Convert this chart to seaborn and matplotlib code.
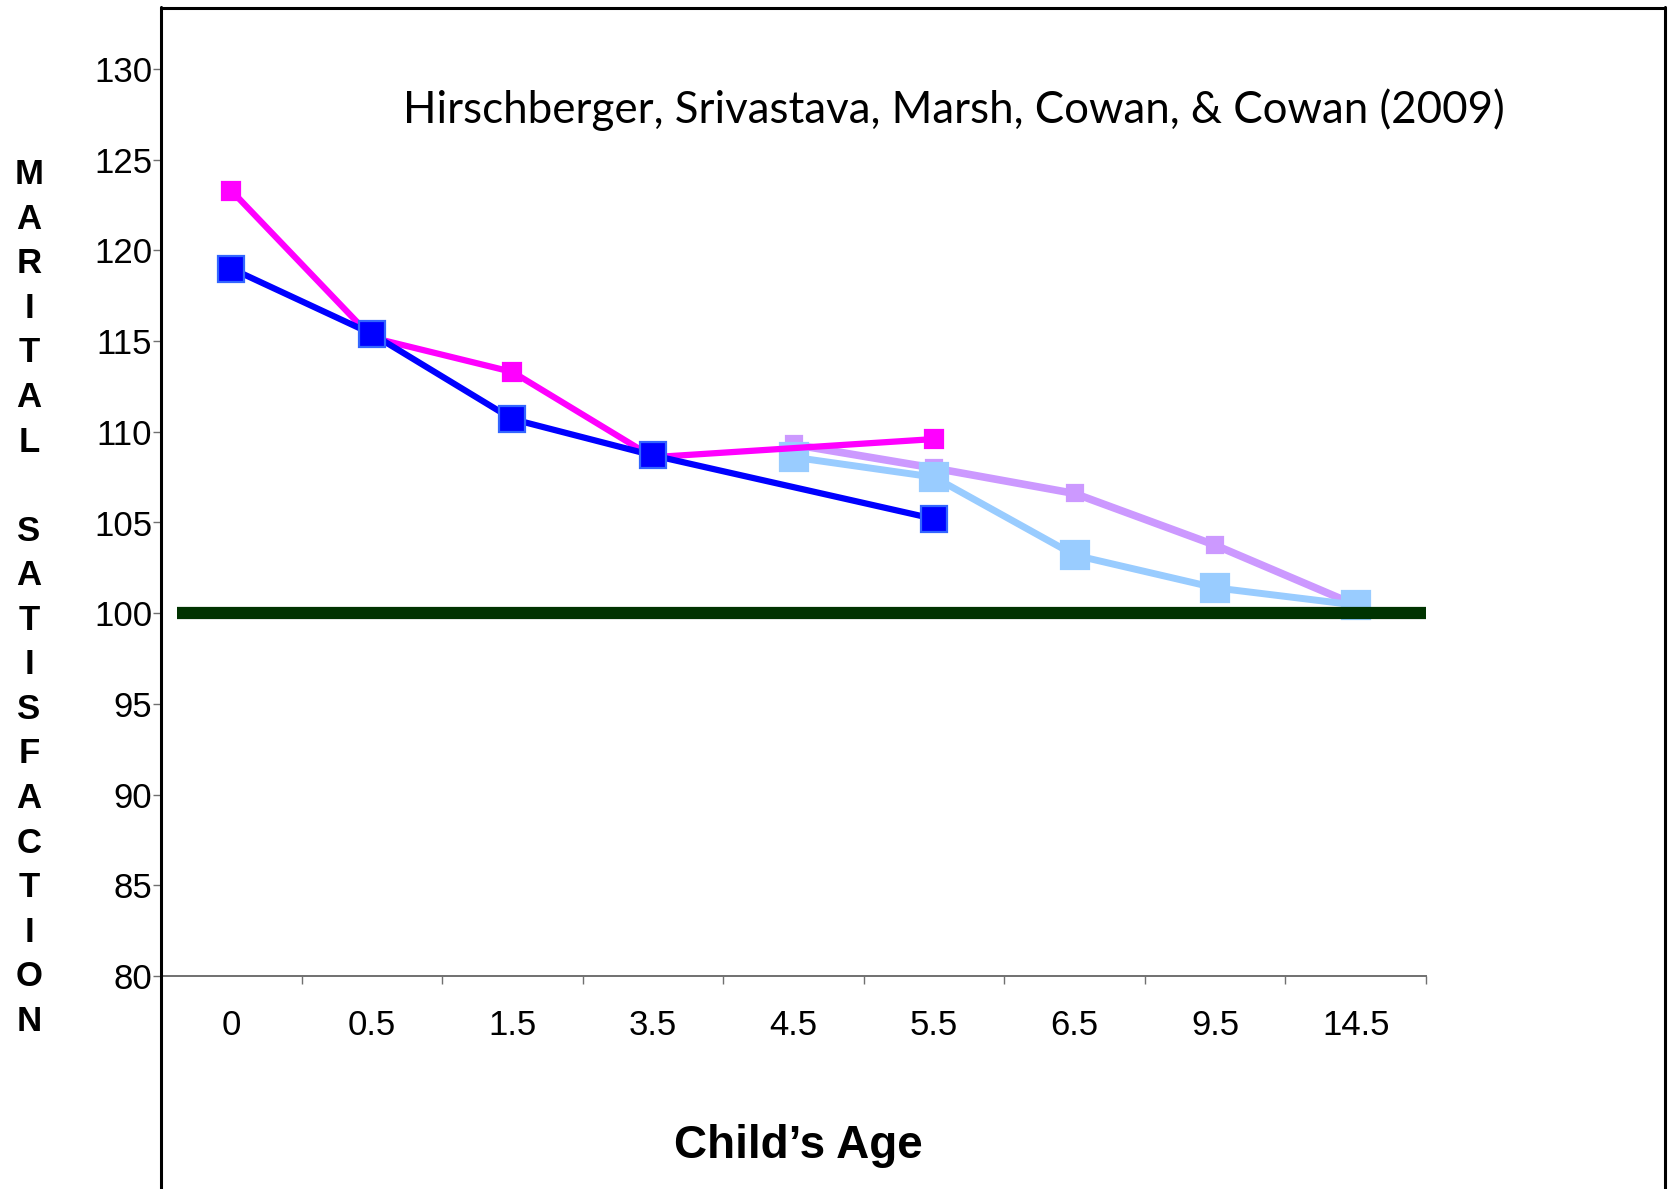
import pandas as pd
import matplotlib.pyplot as plt
import seaborn as sns
from matplotlib.lines import Line2D


# -----------------------------
# 1. Data
# -----------------------------
ages = ["0", "0.5", "1.5", "3.5", "4.5", "5.5", "6.5", "9.5", "14.5"]

pink_vals = [123.3, 115.2, 113.3, 108.6, None, 109.6, None, None, None]
blue_vals = [119.0, 115.4, 110.7, 108.7, None, 105.2, None, None, None]
lightblue_vals = [None, None, None, None, 108.6, 107.5, 103.2, 101.4, 100.45]
lavender_vals = [None, None, None, None, 109.3, 108.0, 106.6, 103.75, 100.45]

baseline = 100
y_ticks = [80, 85, 90, 95, 100, 105, 110, 115, 120, 125, 130]

title_text = "Hirschberger, Srivastava, Marsh, Cowan, & Cowan (2009)"
x_label = "Child\u2019s Age"
y_label = "MARITAL SATISFACTION"


def series_frame(values):
    rows = [(i, v) for i, v in enumerate(values) if v is not None]
    return pd.DataFrame(rows, columns=["pos", "score"])


# -----------------------------
# 2. Figure setup
# -----------------------------
sns.set_style("white")
plt.rcParams["font.family"] = ["Liberation Sans", "DejaVu Sans"]
plt.rcParams["text.color"] = "black"

W, H = 1671, 1189
fig = plt.figure(figsize=(W / 100, H / 100), dpi=100)
ax = fig.add_axes([161 / W, 1 - 976 / H, (1426 - 161) / W, (976 - 69) / H])


# -----------------------------
# 3. Lines
# -----------------------------
styles = [
    (lavender_vals, "#CC99FF", 5.5, 11.5, "#CC99FF"),
    (lightblue_vals, "#99CCFF", 5.0, 20.0, "#99CCFF"),
    (pink_vals, "#FF00FF", 4.5, 13.5, "#FF00FF"),
    (blue_vals, "#0000FF", 4.5, 18.5, "#3366FF"),
]

for vals, color, lw, ms, edge in styles:
    sns.lineplot(
        data=series_frame(vals), x="pos", y="score",
        color=color, linewidth=lw, marker="s", markersize=ms,
        markeredgecolor=edge, markeredgewidth=1.6,
        errorbar=None, sort=False, ax=ax,
    )

ax.axhline(baseline, xmin=0.0126, xmax=1.0, color="#003300",
           linewidth=8.8, solid_capstyle="butt", zorder=5)


# -----------------------------
# 4. Axes styling
# -----------------------------
ax.set_xlim(-0.5, len(ages) - 0.5)
ax.set_ylim(80, 130)
ax.set_xlabel("")
ax.set_ylabel("")

ax.set_yticks(y_ticks)
ax.set_yticklabels([str(t) for t in y_ticks])
ax.set_xticks(range(len(ages)))
ax.set_xticklabels(ages)
ax.set_xticks([i + 0.5 for i in range(len(ages))], minor=True)

ax.tick_params(axis="y", which="major", direction="out", length=5.8,
               width=1.0, color="#707070", pad=0.5, labelsize=25,
               labelcolor="black", left=True)
ax.tick_params(axis="x", which="major", length=0, pad=24, labelsize=25,
               labelcolor="black")
ax.tick_params(axis="x", which="minor", direction="out", length=5.8,
               width=1.0, color="#707070", bottom=True)

for side in ["left", "top", "right"]:
    ax.spines[side].set_visible(False)
ax.spines["bottom"].set_color("#707070")
ax.spines["bottom"].set_linewidth(1.4)


# -----------------------------
# 5. Frame and text
# -----------------------------
def fx(px):
    return px / W


def fy(py):
    return 1 - py / H


frame_kw = dict(color="black", linewidth=2.2, transform=fig.transFigure)
fig.add_artist(Line2D([fx(161), fx(161)], [fy(7), 0], **frame_kw))
fig.add_artist(Line2D([fx(161), fx(1665)], [fy(8), fy(8)], **frame_kw))
fig.add_artist(Line2D([fx(1665), fx(1665)], [fy(7), 0], **frame_kw))

fig.text(fx(954), fy(110), title_text, ha="center", va="center",
         fontsize=31.6, family=["Lato", "DejaVu Sans"])

fig.text(fx(798), fy(1146), x_label, ha="center", va="center",
         fontsize=33, fontweight="bold")

stacked = "\n".join(" " if ch == " " else ch for ch in y_label)
fig.text(fx(29), fy(598), stacked, ha="center", va="center",
         multialignment="center", fontsize=25, fontweight="bold",
         linespacing=1.445)

fig.savefig("out.png", dpi=100)
